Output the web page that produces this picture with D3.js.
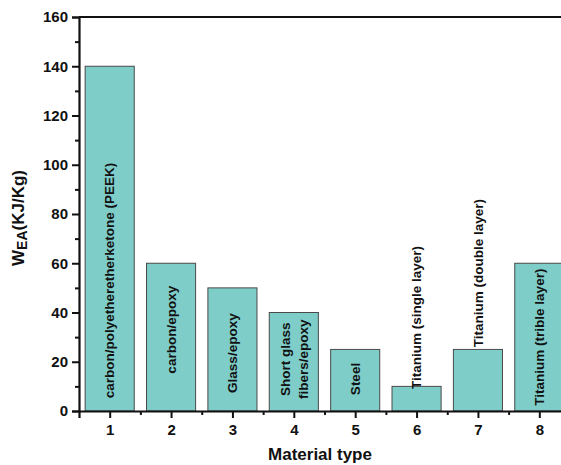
<!DOCTYPE html>
<html>
<head>
<meta charset="utf-8">
<script src="https://cdn.jsdelivr.net/npm/d3@7"></script>
<style>
  body { margin: 0; background: #fff; }
  svg { font-family: Arial, "Liberation Sans", sans-serif; font-weight: bold; }
</style>
</head>
<body>
<svg id="chart" width="561" height="465"></svg>
<script>
// material types and specific energy absorption
let categories = [1, 2, 3, 4, 5, 6, 7, 8];
let values = [140, 60, 50, 40, 25, 10, 25, 60];
let labels = [
	['carbon/polyetheretherketone (PEEK)'],
	['carbon/epoxy'],
	['Glass/epoxy'],
	['Short glass', 'fibers/epoxy'],
	['Steel'],
	['Titanium (single layer)'],
	['Titanium (double layer)'],
	['Titanium (trible layer)']
];
// where the middle of each label sits, in y units
let labelAt = [53, 33, 23.5, 21, 13, 38, 56, 30];
let yTicks = [0, 20, 40, 60, 80, 100, 120, 140, 160];

let svg = d3.select('#chart');
let mLeft = 79, mTop = 17, mBottom = 411;

let x = d3.scaleLinear().domain([0.5, 8.5]).range([mLeft, 570]);
let y = d3.scaleLinear().domain([0, 160]).range([mBottom, mTop]);
let bw = (x(2) - x(1)) * 0.8;

// bars
svg.append('g')
	.selectAll('rect')
	.data(values)
	.enter()
	.append('rect')
	.attr('x', (d, i) => x(categories[i]) - bw / 2)
	.attr('y', d => y(d))
	.attr('width', bw)
	.attr('height', d => y(0) - y(d))
	.attr('fill', '#7ecdc9')
	.attr('stroke', '#4a4a4a')
	.attr('stroke-width', 1);

// labels inside / above bars
let lg = svg.append('g');
labels.forEach((lines, i) => {
	let cx = x(categories[i]);
	let cy = y(labelAt[i]);
	lines.forEach((t, j) => {
		let dx = (j - (lines.length - 1) / 2) * 18;
		lg.append('text')
			.attr('transform', 'translate(' + (cx + dx + 4.7) + ',' + cy + ') rotate(-90)')
			.attr('text-anchor', 'middle')
			.attr('font-size', 13.5)
			.attr('fill', '#111')
			.text(t);
	});
});

// y axis
let yAxis = d3.axisLeft(y).tickValues(yTicks).tickSize(7).tickPadding(4);
let gy = svg.append('g').attr('transform', 'translate(' + mLeft + ',0)').call(yAxis);
gy.selectAll('text').attr('font-size', 15).attr('font-family', 'Arial, "Liberation Sans", sans-serif').attr('font-weight', 'bold').attr('fill', '#111');
svg.append('g').attr('transform', 'translate(' + mLeft + ',0)')
	.call(d3.axisLeft(y).tickValues(d3.range(10, 160, 20)).tickSize(4).tickFormat(''))
	.select('.domain').remove();

// x axis
let xAxis = d3.axisBottom(x).tickValues(categories).tickSize(7).tickPadding(6).tickFormat(d3.format('d'));
let gx = svg.append('g').attr('transform', 'translate(0,' + mBottom + ')').call(xAxis);
gx.selectAll('text').attr('font-size', 15).attr('font-family', 'Arial, "Liberation Sans", sans-serif').attr('font-weight', 'bold').attr('fill', '#111');
svg.append('g').attr('transform', 'translate(0,' + mBottom + ')')
	.call(d3.axisBottom(x).tickValues(d3.range(1.5, 8.5, 1)).tickSize(4).tickFormat(''))
	.select('.domain').remove();

svg.selectAll('.domain').attr('stroke-width', 2.2).attr('stroke', '#111');
svg.selectAll('.tick line').attr('stroke-width', 2).attr('stroke', '#111');

// top frame line
svg.append('line')
	.attr('x1', mLeft).attr('x2', 561)
	.attr('y1', mTop).attr('y2', mTop)
	.attr('stroke', '#111').attr('stroke-width', 2.2);

// axis titles
svg.append('text')
	.attr('x', 320).attr('y', 460)
	.attr('text-anchor', 'middle')
	.attr('font-size', 17)
	.attr('fill', '#111')
	.text('Material type');

let yt = svg.append('text')
	.attr('transform', 'translate(24,218) rotate(-90)')
	.attr('text-anchor', 'middle')
	.attr('font-size', 17)
	.attr('fill', '#111');
yt.append('tspan').text('W');
yt.append('tspan').attr('font-size', 14).attr('dy', 3).text('EA');
yt.append('tspan').attr('dy', -3).text('(KJ/Kg)');
</script>
</body>
</html>
